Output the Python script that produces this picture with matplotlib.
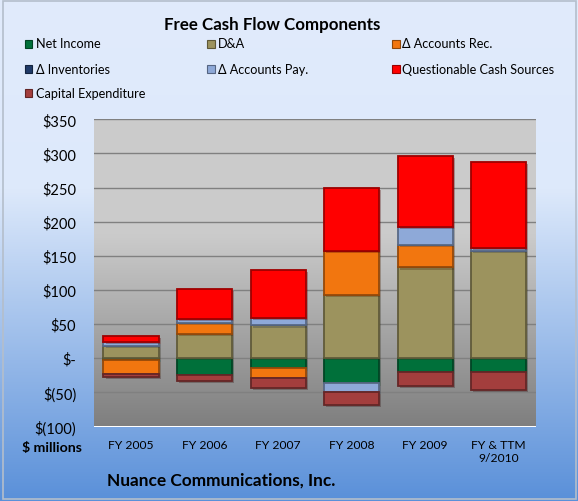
import matplotlib.pyplot as plt
import matplotlib.patheffects as pe
import numpy as np
from matplotlib.colors import LinearSegmentedColormap, to_rgb
from matplotlib.patches import Rectangle

# data ($ millions)
years = ["FY 2005", "FY 2006", "FY 2007", "FY 2008", "FY 2009", "FY & TTM\n9/2010"]
net_income = [-3, -25, -15, -37, -20, -20]
dna = [18, 35, 48, 93, 133, 157]
accounts_rec = [-20, 17, -14, 64, 33, 0]
inventories = [0, 0, 0, 0, 0, 0]
accounts_pay = [6, 6, 11, -12, 26, 4]
questionable = [9, 44, 70, 93, 104, 126]
capex = [-5, -8, -14, -19, -20, -27]

series = [("Net Income", net_income, "#00703A"),
          ("D&A", dna, "#9C935E"),
          ("\u0394 Accounts Rec.", accounts_rec, "#F2760F"),
          ("\u0394 Inventories", inventories, "#1F3A68"),
          ("\u0394 Accounts Pay.", accounts_pay, "#8EA9D8"),
          ("Questionable Cash Sources", questionable, "#FF0000"),
          ("Capital Expenditure", capex, "#A33E3D")]

plt.rcParams['font.family'] = ['Lato', 'DejaVu Sans']

W, H = 578, 502
fig = plt.figure(figsize=(W / 100, H / 100), dpi=100)

# figure background gradient + border
bg = fig.add_axes([0, 0, 1, 1], zorder=-10)
cm_bg = LinearSegmentedColormap.from_list("bg", [(0, "#E1EBFC"), (0.38, "#DDE9FB"),
                                                 (1, "#5A90D9")])
bg.imshow(np.linspace(0, 1, 256).reshape(-1, 1), cmap=cm_bg, aspect="auto",
          extent=[0, 1, 0, 1])
bg.add_patch(Rectangle((2.5 / W, 2 / H), (W - 4.5) / W, (H - 4) / H, fill=False,
                       edgecolor="#B4BECB", lw=1.2))
bg.set_xlim(0, 1)
bg.set_ylim(0, 1)
bg.axis("off")

ax = fig.add_axes([94.3 / W, 1 - 427.5 / H, (535.5 - 94.3) / W, (427.5 - 120.3) / H])
x = np.arange(len(years))
ax.set_xlim(-0.5, len(years) - 0.5)
ax.set_ylim(-100, 350)

# plot area gradient
cm_pa = LinearSegmentedColormap.from_list("pa", [(0, "#7F7F7F"), (0.62, "#CBCBCB"),
                                                 (1, "#CCCCCC")])
ax.imshow(np.linspace(0, 1, 256).reshape(-1, 1), cmap=cm_pa, aspect="auto",
          extent=[-0.5, len(years) - 0.5, -100, 350], origin="lower", zorder=0)

for v in range(-50, 351, 50):
    ax.axhline(v, color="#808080", lw=1, zorder=1)

pos_base = np.zeros(len(years))
neg_base = np.zeros(len(years))
shadow = [pe.SimplePatchShadow(offset=(1.5, -1.5), alpha=0.3), pe.Normal()]
for name, vals, col in series:
    vals = np.array(vals, dtype=float)
    bottoms = np.where(vals >= 0, pos_base, neg_base)
    edge = tuple(c * 0.62 for c in to_rgb(col))
    bars = ax.bar(x, vals, 0.75, bottom=bottoms, color=col, edgecolor=edge,
                  linewidth=1.3, zorder=3)
    for b in bars:
        if b.get_height() != 0:
            b.set_path_effects(shadow)
    pos_base = pos_base + np.where(vals > 0, vals, 0)
    neg_base = neg_base + np.where(vals < 0, vals, 0)

ticks = list(range(-100, 351, 50))
labels = []
for t in ticks:
    if t > 0:
        labels.append("$%d" % t)
    elif t == 0:
        labels.append("$-")
    else:
        labels.append("$(%d)" % -t)
ax.set_yticks(ticks)
ax.set_yticklabels(labels, fontsize=10.5)
ax.set_xticks(x)
ax.set_xticklabels(years, fontsize=8.7, linespacing=1.25)
ax.tick_params(axis="y", length=0, pad=13)
ax.tick_params(axis="x", length=0, pad=9)
for s in ax.spines.values():
    s.set_visible(False)

fig.text(272 / W, 1 - 25 / H, "Free Cash Flow Components", ha="center", va="center",
         fontsize=12.2, fontweight="bold")
fig.text(51.7 / W, 1 - 448.5 / H, "$ millions", ha="center", va="center",
         fontsize=10.2, fontweight="bold")
fig.text(106.7 / W, 1 - 481 / H, "Nuance Communications, Inc.", ha="left", va="center",
         fontsize=12.4, fontweight="bold")

# legend laid out like the Excel one: three columns, filled row by row
col_x = [25, 207, 392]
row_y = [44.5, 69.5, 93.5]
for i, (name, vals, col) in enumerate(series):
    cx = col_x[i % 3]
    cy = row_y[i // 3]
    edge = tuple(c * 0.6 for c in to_rgb(col))
    fig.patches.append(Rectangle((cx / W, 1 - (cy + 4) / H), 7.5 / W, 8 / H,
                                 facecolor=col, edgecolor=edge, lw=0.8,
                                 transform=fig.transFigure, figure=fig))
    fig.text((cx + 10.5) / W, 1 - cy / H, name, ha="left", va="center", fontsize=9.1)

fig.savefig("out.png", dpi=100)
